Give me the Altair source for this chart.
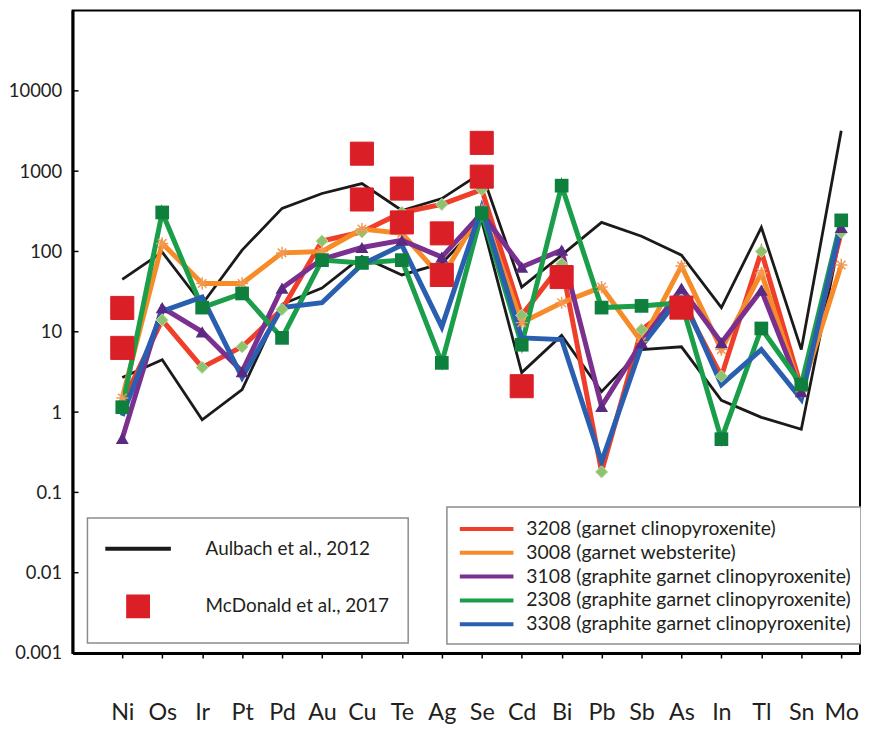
import altair as alt
import pandas as pd

# ---------------- data ----------------
elements = ["Ni", "Os", "Ir", "Pt", "Pd", "Au", "Cu", "Te", "Ag", "Se",
            "Cd", "Bi", "Pb", "Sb", "As", "In", "Tl", "Sn", "Mo"]

aulbach_upper = [45, 98, 22, 104, 344, 527, 700, 324, 456, 957,
                 36, 90, 230, 155, 90, 20, 200, 6, 3180]
aulbach_lower = [2.7, 4.5, 0.8, 1.9, 22, 35, 86, 51, 71, 240,
                 3.1, 9, 1.8, 6.0, 6.5, 1.4, 0.86, 0.61, 180]

s3208 = [1.3, 14, 3.6, 6.5, 19, 135, 175, 306, 385, 590,
         16, 70, 0.18, 10.6, 25, 2.8, 100, 2.0, 173]
s3008 = [1.5, 126, 40, 40, 96, 100, 190, 168, 47, 330,
         13, 23, 36, 7.5, 66, 6, 54, 1.8, 68]
s3108 = [0.47, 20, 10, 3.2, 35, 80, 112, 138, 85, 300,
         64, 104, 1.18, 7.3, 35, 7.3, 33, 1.8, 200]
s2308 = [1.15, 306, 20, 30, 8.4, 78, 72, 78, 4.1, 300,
         6.9, 660, 20, 21, 23, 0.46, 11, 2.2, 244]
s3308 = [0.9, 18, 27, 2.7, 20, 23, 69, 120, 11.5, 353,
         8.4, 8, 0.24, 6.6, 29, 2.2, 6, 1.45, 225]

mcd_elements = ["Ni", "Ni", "Cu", "Cu", "Te", "Te", "Ag", "Ag", "Se", "Se", "Cd", "Bi", "As"]
mcd_values = [19.8, 6.3, 1650, 444, 607, 230, 168, 51, 2250, 855, 2.1, 48, 20]

sample_names = ["3208 (garnet clinopyroxenite)",
                "3008 (garnet websterite)",
                "3108 (graphite garnet clinopyroxenite)",
                "2308 (graphite garnet clinopyroxenite)",
                "3308 (graphite garnet clinopyroxenite)"]
sample_series = [s3208, s3008, s3108, s2308, s3308]
line_colors = ["#ef3f2a", "#f68b28", "#7b2f8e", "#1b9e4a", "#2a5fb0"]

ref_names = ["Aulbach et al., 2012", "McDonald et al., 2017"]

y_ticks = [0.001, 0.01, 0.1, 1, 10, 100, 1000, 10000]

# ---------------- tables ----------------
pos = {e: i for i, e in enumerate(elements)}

rows = []
for name, vals in zip(sample_names, sample_series):
    for e, v in zip(elements, vals):
        rows.append({"element": e, "idx": pos[e], "value": v, "sample": name})
samples = pd.DataFrame(rows)

arows = []
for bound, vals in (("upper", aulbach_upper), ("lower", aulbach_lower)):
    for e, v in zip(elements, vals):
        arows.append({"element": e, "idx": pos[e], "value": v, "bound": bound, "ref": ref_names[0]})
aul = pd.DataFrame(arows)

mcd = pd.DataFrame({"element": mcd_elements,
                    "idx": [pos[e] for e in mcd_elements],
                    "value": mcd_values,
                    "ref": ref_names[1]})

ticks_df = pd.DataFrame({"value": y_ticks})

# ---------------- scales / axes ----------------
FONT = "Lato"
TXT = "#231f20"

x_scale = alt.Scale(domain=[-1.245, 18.47], nice=False, zero=False)
y_scale = alt.Scale(type="log", domain=[0.001, 100000], nice=False)

label_expr = "[" + ",".join("'%s'" % e for e in elements) + "][datum.value]"
x_axis = alt.Axis(values=list(range(len(elements))), labelExpr=label_expr, title=None,
                  grid=False, tickSize=5, tickWidth=1.5, tickColor="black",
                  domainWidth=3, domainColor="black", labelFontSize=23.5,
                  labelPadding=43, labelColor=TXT, labelFont=FONT)
y_axis = alt.Axis(values=y_ticks, format="~g", title=None, grid=False, ticks=False,
                  domainWidth=3, domainColor="black", labelFontSize=18.5,
                  labelPadding=11, labelColor=TXT, labelFont=FONT)

X = alt.X("idx:Q", scale=x_scale, axis=x_axis)
Y = alt.Y("value:Q", scale=y_scale, axis=y_axis)

color_scale = alt.Scale(domain=sample_names, range=line_colors)
sample_legend = alt.Legend(orient="none", legendX=377, legendY=500, title=None,
                           symbolType="M -2.7 0 H 2.7", symbolSize=400, symbolStrokeWidth=4,
                           symbolOffset=18, labelOffset=28, labelFontSize=19.5,
                           labelFont=FONT, labelColor=TXT, labelLimit=500,
                           rowPadding=2, padding=10, strokeColor="#8c8c8c",
                           fillColor="white")

ref_stroke_scale = alt.Scale(domain=ref_names, range=["#1a1a1a", "#da1f26"])
ref_fill_scale = alt.Scale(domain=ref_names, range=["#1a1a1a", "#da1f26"])
ref_shape_scale = alt.Scale(domain=ref_names, range=["M -3.3 0 H 3.3", "square"])
ref_legend = alt.Legend(orient="none", legendX=15, legendY=511, title=None,
                        symbolSize=400, symbolStrokeWidth=4, symbolOffset=20,
                        labelOffset=56, labelFontSize=19, labelFont=FONT,
                        labelColor=TXT, labelLimit=500, rowPadding=30,
                        padding=19, strokeColor="#8c8c8c", fillColor="white")

# ---------------- layers ----------------
tick_layer = alt.Chart(ticks_df).mark_rule(color="black", strokeWidth=1.5).encode(
    y=Y, x=alt.value(0), x2=alt.value(6))

aul_layer = alt.Chart(aul).mark_line(strokeWidth=2.8).encode(
    x=X, y=Y,
    stroke=alt.Stroke("ref:N", scale=ref_stroke_scale, legend=ref_legend),
    detail="bound:N")

line_layers = []
for name in sample_names:
    line_layers.append(
        alt.Chart(samples).transform_filter(alt.datum.sample == name)
        .mark_line(strokeWidth=5, strokeJoin="miter")
        .encode(x=X, y=Y,
                color=alt.Color("sample:N", scale=color_scale, legend=sample_legend)))

asterisk = "M -1 0 L 1 0 M 0 -1 L 0 1 M -0.7 -0.7 L 0.7 0.7 M -0.7 0.7 L 0.7 -0.7"

mk_red = alt.Chart(samples).transform_filter(alt.datum.sample == sample_names[0]).mark_point(
    shape="diamond", filled=True, size=150, fill="#8dc26e", stroke="#b9dca2",
    strokeWidth=1, opacity=1).encode(x=X, y=Y)
mk_orange = alt.Chart(samples).transform_filter(alt.datum.sample == sample_names[1]).mark_point(
    shape=asterisk, filled=False, size=150, stroke="#f29a55", strokeWidth=1.5,
    opacity=1).encode(x=X, y=Y)
mk_purple = alt.Chart(samples).transform_filter(alt.datum.sample == sample_names[2]).mark_point(
    shape="triangle-up", filled=True, size=170, color="#5a2a82", opacity=1).encode(x=X, y=Y)
mk_green = alt.Chart(samples).transform_filter(alt.datum.sample == sample_names[3]).mark_point(
    shape="square", filled=True, size=190, color="#0f7f3e", opacity=1).encode(x=X, y=Y)

mcd_layer = alt.Chart(mcd).mark_point(filled=True, size=540, strokeWidth=1, opacity=1).encode(
    x=X, y=Y,
    fill=alt.Fill("ref:N", scale=ref_fill_scale, legend=ref_legend),
    stroke=alt.Stroke("ref:N", scale=ref_stroke_scale, legend=ref_legend),
    shape=alt.Shape("ref:N", scale=ref_shape_scale, legend=ref_legend))

chart = alt.layer(
    tick_layer, aul_layer, *line_layers, mk_red, mk_orange, mk_purple, mk_green, mcd_layer
).properties(
    width=793, height=647,
    autosize=alt.AutoSizeParams(type="none"),
    padding={"left": 65, "top": 0, "right": 1, "bottom": 80},
).configure_view(
    stroke="black", strokeWidth=2
).configure_legend(
    strokeWidth=1.5
)

chart.save("out.html", embed_options={"renderer": "svg", "actions": False})
